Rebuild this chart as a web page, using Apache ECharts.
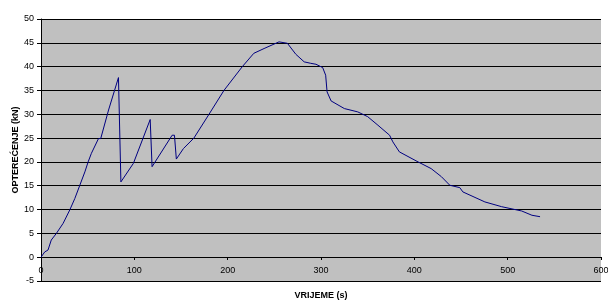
<!DOCTYPE html>
<html>
<head>
<meta charset="utf-8">
<script src="https://cdn.jsdelivr.net/npm/echarts@6/dist/echarts.min.js"></script>
<style>
html, body { margin: 0; padding: 0; background: #fff; }
#container { width: 608px; height: 303px; }
</style>
</head>
<body>
<div id="container"></div>
<script>
var vrijeme = [0, 0.4, 4, 7.5, 11, 16.5, 23.7, 30.8, 36.2, 41.6, 47, 50.5, 54, 61.6, 64, 72.4, 83, 85.6, 99, 117, 119, 140.5, 143, 145, 152.6, 163.8, 180, 196, 215.7, 228, 239, 255, 264, 273, 282, 289, 294.6, 301.8, 305, 306.5, 310.8, 325, 339.4, 350, 361, 373.5, 377, 384, 404, 418, 429, 438, 448.7, 452, 475.6, 493.5, 515, 526, 534.7];
var opterecenje = [0, 0.4, 1.1, 1.5, 3.6, 5.0, 7.1, 9.9, 12.3, 15.1, 17.9, 20, 21.8, 24.9, 24.9, 30.9, 37.7, 15.8, 19.7, 28.9, 19, 25.6, 25.6, 20.6, 22.8, 25, 30, 35, 40, 42.8, 43.8, 45.2, 44.9, 42.6, 41, 40.7, 40.5, 39.8, 38.2, 34.7, 32.8, 31.2, 30.5, 29.5, 27.7, 25.6, 24.2, 22.1, 20.0, 18.6, 16.9, 15.1, 14.6, 13.7, 11.6, 10.6, 9.7, 8.8, 8.5];

var podaci = vrijeme.map(function (t, i) { return [t, opterecenje[i]]; });

var dom = document.getElementById("container");
var myChart = echarts.init(dom);
var option = {
    animation: false,
    textStyle: { fontFamily: 'Liberation Sans, Arial, sans-serif' },
    grid: {
        left: 41,
        right: 7,
        top: 19,
        bottom: 22,
        outerBoundsMode: 'none',
        containLabel: false,
        show: true,
        backgroundColor: '#c0c0c0',
        borderWidth: 0
    },
    xAxis: {
        type: 'value',
        min: 0,
        max: 600,
        interval: 100,
        offset: -24,
        name: 'VRIJEME (s)',
        nameLocation: 'middle',
        nameGap: 34,
        nameMoveOverlap: false,
        nameTextStyle: { fontWeight: 'bold', fontSize: 9, color: '#000' },
        axisLine: { show: true, onZero: false, lineStyle: { color: '#000', width: 1 } },
        axisTick: { show: true, length: 3, lineStyle: { color: '#000' } },
        axisLabel: { fontSize: 9, color: '#000', margin: 9 },
        splitLine: { show: false }
    },
    yAxis: {
        type: 'value',
        min: -5,
        max: 50,
        interval: 5,
        name: 'OPTEREĆENJE (kN)',
        nameLocation: 'middle',
        nameGap: 21,
        nameMoveOverlap: false,
        nameTextStyle: { fontWeight: 'bold', fontSize: 9, color: '#000' },
        axisLine: { show: true, onZero: false, lineStyle: { color: '#000', width: 1 } },
        axisTick: { show: true, length: 4, lineStyle: { color: '#000' } },
        axisLabel: { fontSize: 9, color: '#000', margin: 7 },
        splitLine: { show: true, lineStyle: { color: '#000', width: 1 } }
    },
    series: [
        {
            type: 'line',
            data: podaci,
            showSymbol: false,
            lineStyle: { color: '#000080', width: 1 },
            itemStyle: { color: '#000080' }
        }
    ]
};
myChart.setOption(option, true);
</script>
</body>
</html>
